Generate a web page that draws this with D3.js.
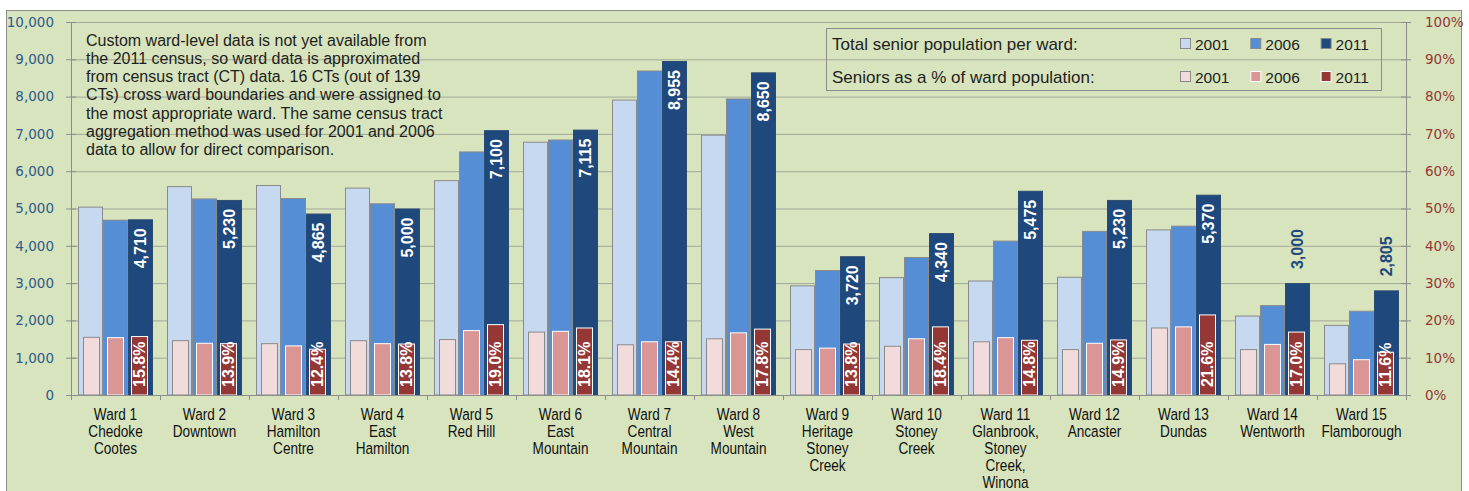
<!DOCTYPE html>
<html>
<head>
<meta charset="utf-8">
<script src="https://cdn.jsdelivr.net/npm/d3@7"></script>
<style>
  html, body { margin: 0; padding: 0; background: #fff; }
  svg { display: block; }
  text { font-family: "Liberation Sans", Arial, sans-serif; }
</style>
</head>
<body>
<div id="chart"></div>
<script>
const wards = [
  ["Ward 1", "Chedoke", "Cootes"],
  ["Ward 2", "Downtown"],
  ["Ward 3", "Hamilton", "Centre"],
  ["Ward 4", "East", "Hamilton"],
  ["Ward 5", "Red Hill"],
  ["Ward 6", "East", "Mountain"],
  ["Ward 7", "Central", "Mountain"],
  ["Ward 8", "West", "Mountain"],
  ["Ward 9", "Heritage", "Stoney", "Creek"],
  ["Ward 10", "Stoney", "Creek"],
  ["Ward 11", "Glanbrook,", "Stoney", "Creek,", "Winona"],
  ["Ward 12", "Ancaster"],
  ["Ward 13", "Dundas"],
  ["Ward 14", "Wentworth"],
  ["Ward 15", "Flamborough"]
];
const years = ["2001", "2006", "2011"];

// total senior population per ward
const pop2001 = [5050, 5600, 5630, 5560, 5760, 6790, 7920, 6980, 2940, 3160, 3070, 3170, 4440, 2130, 1880];
const pop2006 = [4700, 5270, 5280, 5140, 6530, 6850, 8700, 7950, 3350, 3700, 4140, 4400, 4540, 2410, 2260];
const pop2011 = [4710, 5230, 4865, 5000, 7100, 7115, 8955, 8650, 3720, 4340, 5475, 5230, 5370, 3000, 2805];

// seniors as a % of ward population
const pct2001 = [15.6, 14.7, 13.9, 14.7, 15.0, 17.0, 13.6, 15.2, 12.3, 13.2, 14.4, 12.3, 18.1, 12.3, 8.5];
const pct2006 = [15.5, 14.0, 13.3, 13.9, 17.4, 17.2, 14.4, 16.8, 12.7, 15.2, 15.5, 14.0, 18.4, 13.7, 9.6];
const pct2011 = [15.8, 13.9, 12.4, 13.8, 19.0, 18.1, 14.4, 17.8, 13.8, 18.4, 14.8, 14.9, 21.6, 17.0, 11.6];

const popTicks = d3.range(0, 10001, 1000);
const pctTicks = d3.range(0, 101, 10);

const note = [
  "Custom ward-level data is not yet available from",
  "the 2011 census, so ward data is approximated",
  "from census tract (CT) data. 16 CTs (out of 139",
  "CTs) cross ward boundaries and were assigned to",
  "the most appropriate ward. The same census tract",
  "aggregation method was used for 2001 and 2006",
  "data to allow for direct comparison."
];
const legendRows = ["Total senior population per ward:", "Seniors as a % of ward population:"];

const blueFill = ["#c6d9f1", "#558ed5", "#1f497d"];
const blueStroke = ["#8a8a8a", "#8a8a8a", "#2b4a70"];
const redFill = ["#f2dcdb", "#da9694", "#953735"];
const redStroke = ["#8a8a8a", "#ffffff", "#ffffff"];

const width = 1469, height = 491;
const plot = { left: 71, right: 1406, top: 22, bottom: 395 };

const svg = d3.select("#chart").append("svg")
  .attr("width", width).attr("height", height);

svg.append("rect")
  .attr("x", 6.5).attr("y", 10.5)
  .attr("width", 1455).attr("height", 490)
  .attr("fill", "#d7e4bd").attr("stroke", "#8c8c8c");

const x = d3.scaleBand()
  .domain(d3.range(wards.length))
  .range([plot.left, plot.right]);

const xBlue = d3.scaleBand().domain(years).range([7, x.bandwidth() - 7]);
const xRed = d3.scaleBand().domain(years).range([12, x.bandwidth() - 12]).paddingInner(7 / 24);

const y = d3.scaleLinear().domain([0, 10000]).range([plot.bottom, plot.top]);
const yPct = d3.scaleLinear().domain([0, 100]).range([plot.bottom, plot.top]);

// gridlines
svg.append("g")
  .attr("transform", `translate(${plot.left},0)`)
  .call(d3.axisLeft(y).tickValues(popTicks).tickFormat("").tickSize(-(plot.right - plot.left)))
  .call(g => g.select(".domain").remove())
  .call(g => g.selectAll("line").attr("stroke", "#a3a89a"));

// left axis
svg.append("g")
  .attr("transform", `translate(${plot.left},0)`)
  .call(d3.axisLeft(y).tickValues(popTicks).tickFormat(d3.format(",")).tickSizeOuter(0).tickPadding(11))
  .call(g => g.select(".domain").attr("stroke", "#8c8c8c"))
  .call(g => g.selectAll(".tick line").attr("x1", -5).attr("x2", 5).attr("stroke", "#8c8c8c"))
  .call(g => g.selectAll("text")
    .attr("fill", "#2e5a8c")
    .style("font-family", "'DejaVu Sans', Verdana, sans-serif")
    .style("font-size", "13.5px"));

// right axis
svg.append("g")
  .attr("transform", `translate(${plot.right},0)`)
  .call(d3.axisRight(yPct).tickValues(pctTicks).tickFormat(d => d + "%").tickSizeOuter(0).tickPadding(13))
  .call(g => g.select(".domain").attr("stroke", "#8c8c8c"))
  .call(g => g.selectAll(".tick line").attr("x1", -5).attr("x2", 5).attr("stroke", "#8c8c8c"))
  .call(g => g.selectAll("text")
    .attr("fill", "#953735")
    .style("font-family", "'DejaVu Sans', Verdana, sans-serif")
    .style("font-size", "13.5px"));

// bars
const popSeries = [pop2001, pop2006, pop2011];
const pctSeries = [pct2001, pct2006, pct2011];

const groups = svg.append("g").selectAll("g")
  .data(wards.map((w, i) => i))
  .join("g")
  .attr("transform", i => `translate(${x(i)},0)`);

years.forEach((yr, k) => {
  groups.append("rect")
    .attr("x", xBlue(yr) + 0.5)
    .attr("y", i => y(popSeries[k][i]) + 0.5)
    .attr("width", xBlue.bandwidth() - 1)
    .attr("height", i => y(0) - y(popSeries[k][i]) - 0.5)
    .attr("fill", blueFill[k])
    .attr("stroke", blueStroke[k]);
});

years.forEach((yr, k) => {
  groups.append("rect")
    .attr("x", xRed(yr) + 0.5)
    .attr("y", i => yPct(pctSeries[k][i]) + 0.5)
    .attr("width", xRed.bandwidth() - 1)
    .attr("height", i => yPct(0) - yPct(pctSeries[k][i]) - 0.5)
    .attr("fill", redFill[k])
    .attr("stroke", redStroke[k]);
});

// 2011 population labels (inside end, or above the bar when it is short)
const fmt = d3.format(",");
const fitsInside = i => y(0) - y(pop2011[i]) > 125;
groups.append("text")
  .attr("transform", i => {
    const cx = xBlue("2011") + xBlue.bandwidth() / 2;
    const top = y(pop2011[i]);
    return `translate(${cx},${fitsInside(i) ? top + 9 : top - 14}) rotate(-90)`;
  })
  .attr("text-anchor", i => (fitsInside(i) ? "end" : "start"))
  .attr("dy", "0.36em")
  .attr("fill", i => (fitsInside(i) ? "#ffffff" : "#1f497d"))
  .style("font-size", "16px")
  .style("font-weight", "bold")
  .text(i => fmt(pop2011[i]));

// 2011 % labels
groups.append("text")
  .attr("transform", () => {
    const cx = xRed("2011") + xRed.bandwidth() / 2;
    return `translate(${cx},${y(0) - 8}) rotate(-90)`;
  })
  .attr("text-anchor", "start")
  .attr("dy", "0.36em")
  .attr("fill", "#ffffff")
  .style("font-size", "16px")
  .style("font-weight", "bold")
  .text(i => pct2011[i].toFixed(1) + "%");

// x axis
svg.append("line")
  .attr("x1", plot.left).attr("x2", plot.right)
  .attr("y1", plot.bottom + 0.5).attr("y2", plot.bottom + 0.5)
  .attr("stroke", "#8c8c8c");

svg.append("g").selectAll("line")
  .data(d3.range(wards.length + 1))
  .join("line")
  .attr("x1", i => Math.round(plot.left + i * x.step()) + 0.5)
  .attr("x2", i => Math.round(plot.left + i * x.step()) + 0.5)
  .attr("y1", plot.bottom).attr("y2", plot.bottom + 5)
  .attr("stroke", "#8c8c8c");

// category labels, squeezed to look like a narrow face
const catLabels = svg.append("g").selectAll("text")
  .data(wards)
  .join("text")
  .attr("transform", (d, i) => `translate(${x(i) + x.bandwidth() / 2},0) scale(0.8,1)`)
  .attr("text-anchor", "middle")
  .attr("fill", "#111")
  .style("font-size", "17px");

catLabels.selectAll("tspan")
  .data(d => d)
  .join("tspan")
  .attr("x", 0)
  .attr("y", (d, j) => 420 + j * 17)
  .text(d => d);

// note
svg.append("g").selectAll("text")
  .data(note)
  .join("text")
  .attr("x", 86)
  .attr("y", (d, i) => 45.5 + i * 18.3)
  .attr("fill", "#1e1e1e")
  .style("font-size", "16px")
  .text(d => d);

// legend
const legend = svg.append("g");
legend.append("rect")
  .attr("x", 826.5).attr("y", 28.5)
  .attr("width", 555).attr("height", 62)
  .attr("fill", "none").attr("stroke", "#8c8c8c");

const legendRow = legend.selectAll("g")
  .data(legendRows)
  .join("g")
  .attr("transform", (d, r) => `translate(0,${44 + r * 33})`);

legendRow.append("text")
  .attr("x", 832)
  .attr("dy", "0.36em")
  .attr("fill", "#1e1e1e")
  .style("font-size", "17px")
  .text(d => d);

years.forEach((yr, k) => {
  legendRow.append("rect")
    .attr("x", 1180.5 + k * 70.3)
    .attr("y", -5.5)
    .attr("width", 10).attr("height", 10)
    .attr("fill", (d, r) => (r === 0 ? blueFill[k] : redFill[k]))
    .attr("stroke", (d, r) => (r === 0 ? "#8a8a8a" : (k === 0 ? "#8a8a8a" : "#ffffff")));
  legendRow.append("text")
    .attr("x", 1195 + k * 70.3)
    .attr("dy", "0.36em")
    .attr("fill", "#1e1e1e")
    .style("font-size", "15.5px")
    .text(yr);
});
</script>
</body>
</html>
